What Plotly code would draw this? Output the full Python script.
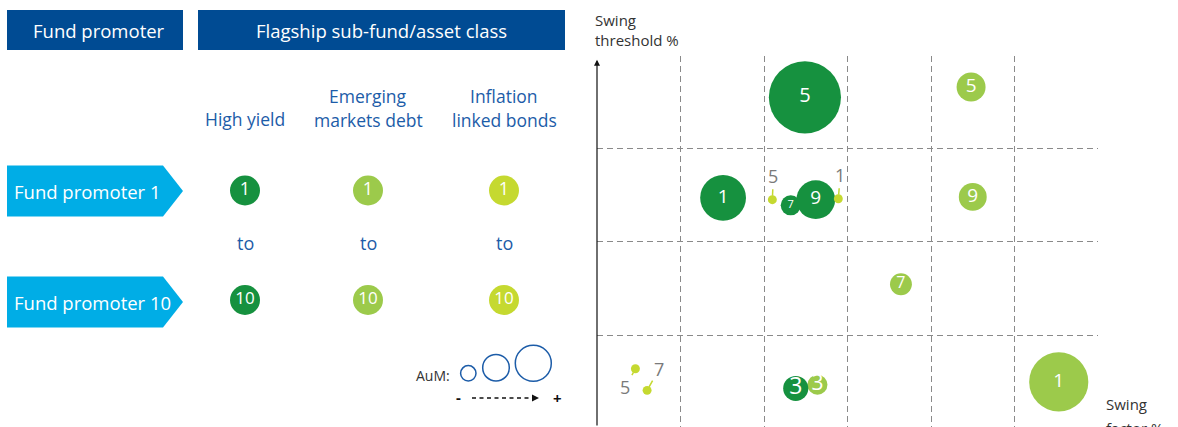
import plotly.graph_objects as go

W, H = 1178, 427
FONT = "Open Sans"

# ---------------- data ----------------
asset_classes = ["High yield", "Emerging markets debt", "Inflation linked bonds"]
asset_header_lines = [["High yield"], ["Emerging", "markets debt"], ["Inflation", "linked bonds"]]
asset_colors = ["#16913f", "#9cca4b", "#c5d930"]
promoter_rows = ["Fund promoter 1", "Fund promoter 10"]
promoter_ids = ["1", "10"]

# bubble chart (swing factor in grid units, swing threshold in grid units, relative AuM)
hy_promoter = ["1", "3", "5", "7", "9"]
hy_factor = [1.51, 2.38, 2.49, 2.32, 2.62]
hy_threshold = [2.47, 0.44, 3.54, 2.39, 2.45]
hy_aum = [21.0, 6.3, 52.0, 4.0, 15.0]

emd_promoter = ["1", "3", "5", "7", "9"]
emd_factor = [5.53, 2.64, 4.48, 3.64, 4.50]
emd_threshold = [0.51, 0.48, 3.65, 1.55, 2.48]
emd_aum = [35.0, 4.0, 8.4, 4.8, 7.8]

ilb_promoter = ["5", "1", "5", "7"]
ilb_factor = [2.10, 2.89, 0.46, 0.60]
ilb_threshold = [2.45, 2.46, 0.65, 0.42]
ilb_aum = [0.8, 0.8, 0.8, 0.8]

# ---------------- styles ----------------
hy_label_size = [19, 23, 20, 11, 19]
emd_label_size = [19, 21, 19, 16, 19]
ilb_label_offsets = [(1, -24), (2, -24), (-10, 18), (12, -21)]
SIZEREF = 0.02
DARK_BLUE = "#004b93"
CYAN = "#00ade6"
TEXT_BLUE = "#1c5ca8"
GRID = "#8a8a8a"

fig = go.Figure()

# bubble traces (right chart)
def bubble(xs, ys, aum, labels, color, lsize, show_text=True):
    return go.Scatter(
        x=xs, y=ys, mode="markers+text" if show_text else "markers",
        text=labels if show_text else None,
        textposition="middle center",
        textfont=dict(family=FONT, color="white", size=lsize),
        marker=dict(size=aum, sizemode="area", sizeref=SIZEREF, color=color,
                    line=dict(width=0), opacity=1),
        cliponaxis=False, hoverinfo="skip", showlegend=False,
        xaxis="x", yaxis="y",
    )

fig.add_trace(bubble(emd_factor, emd_threshold, emd_aum, emd_promoter, asset_colors[1], emd_label_size))
fig.add_trace(bubble(hy_factor, hy_threshold, hy_aum, hy_promoter, asset_colors[0], hy_label_size))
fig.add_trace(bubble(ilb_factor, ilb_threshold, ilb_aum, ilb_promoter, asset_colors[2], 10, show_text=False))

annotations = []
for (x, y, lab, (ax, ay)) in zip(ilb_factor, ilb_threshold, ilb_promoter, ilb_label_offsets):
    annotations.append(dict(
        x=x, y=y, xref="x", yref="y", text=lab, showarrow=True, ax=ax, ay=ay,
        arrowhead=0, arrowwidth=1.5, arrowcolor=asset_colors[2], standoff=4,
        font=dict(family=FONT, size=18, color="#7a7a7a"),
    ))

# y axis arrow
annotations.append(dict(x=0, y=3.94, xref="x", yref="y", text="", showarrow=True,
                        ax=0, ay=372, arrowhead=2, arrowsize=1, arrowwidth=1.2,
                        arrowcolor="#111111", standoff=0))

# axis titles
annotations.append(dict(x=593, y=8, xref="x2", yref="y2", text="Swing<br>threshold %",
                        showarrow=False, xanchor="left", yanchor="top", align="left",
                        font=dict(family=FONT, size=15, color="#333333")))
annotations.append(dict(x=1104, y=404, xref="x2", yref="y2", text="Swing",
                        showarrow=False, xanchor="left", yanchor="middle", align="left",
                        font=dict(family=FONT, size=15, color="#333333")))
annotations.append(dict(x=1104, y=416, xref="x2", yref="y2", text="factor %",
                        showarrow=False, xanchor="left", yanchor="top", align="left",
                        font=dict(family=FONT, size=15, color="#333333")))

# ---------------- left panel ----------------
shapes = []
# header boxes
header_boxes = [("Fund promoter", 7, 183), ("Flagship sub-fund/asset class", 198, 565)]
for txt, x0, x1 in header_boxes:
    shapes.append(dict(type="rect", xref="x2", yref="y2", x0=x0, x1=x1, y0=10, y1=50,
                       fillcolor=DARK_BLUE, line=dict(width=0), layer="above"))
    annotations.append(dict(x=(x0 + x1) / 2 + (4 if x0 < 100 else 0), y=30, xref="x2", yref="y2",
                            text=txt, showarrow=False,
                            font=dict(family=FONT, size=18.5, color="white")))

col_x = [245, 368, 504]
for cx, lines in zip(col_x, asset_header_lines):
    if len(lines) == 1:
        annotations.append(dict(x=cx, y=119, xref="x2", yref="y2", text=lines[0], showarrow=False,
                                font=dict(family=FONT, size=17.5, color=TEXT_BLUE)))
    else:
        for j, ln in enumerate(lines):
            annotations.append(dict(x=cx, y=96 + 23.5 * j, xref="x2", yref="y2", text=ln,
                                    showarrow=False, font=dict(family=FONT, size=17.5, color=TEXT_BLUE)))

row_y = [191, 302]
for ry, label in zip(row_y, promoter_rows):
    shapes.append(dict(type="path", xref="x2", yref="y2",
                       path=f"M 7,{ry-25.5} L 163,{ry-25.5} L 183,{ry} L 163,{ry+25.5} L 7,{ry+25.5} Z",
                       fillcolor=CYAN, line=dict(width=0), layer="above"))
    annotations.append(dict(x=12, y=ry, xref="x2", yref="y2", text=label, showarrow=False,
                            xanchor="left", font=dict(family=FONT, size=18.5, color="white")))

key_x, key_y, key_txt, key_col = [], [], [], []
for ci, cx in enumerate(col_x):
    for ry, pid in zip([190.5, 300], promoter_ids):
        key_x.append(cx); key_y.append(ry); key_txt.append(pid); key_col.append(asset_colors[ci])
    annotations.append(dict(x=cx, y=243, xref="x2", yref="y2", text="to", showarrow=False,
                            font=dict(family=FONT, size=18, color=TEXT_BLUE)))

fig.add_trace(go.Scatter(
    x=key_x, y=key_y, mode="markers+text", text=key_txt, textposition="middle center",
    textfont=dict(family=FONT, color="white", size=[18, 17, 18, 17, 18, 17]),
    marker=dict(size=30, color=key_col, line=dict(width=0)),
    xaxis="x2", yaxis="y2", cliponaxis=False, hoverinfo="skip", showlegend=False,
))

# AuM key
for cx, cy, r in [(468.3, 373.3, 7.7), (496, 367.7, 13.3), (533.3, 363.3, 18)]:
    shapes.append(dict(type="circle", xref="x2", yref="y2", x0=cx - r, x1=cx + r, y0=cy - r, y1=cy + r,
                       line=dict(color=TEXT_BLUE, width=1.5), fillcolor="rgba(0,0,0,0)", layer="above"))
annotations.append(dict(x=433, y=375, xref="x2", yref="y2", text="AuM:", showarrow=False,
                        font=dict(family=FONT, size=14, color="#333333")))
annotations.append(dict(x=458, y=397, xref="x2", yref="y2", text="<b>-</b>", showarrow=False,
                        font=dict(family=FONT, size=15, color="#111111")))
annotations.append(dict(x=557, y=397.5, xref="x2", yref="y2", text="<b>+</b>", showarrow=False,
                        font=dict(family=FONT, size=15, color="#111111")))
shapes.append(dict(type="line", xref="x2", yref="y2", x0=472, x1=533, y0=398, y1=398,
                   line=dict(color="#111111", width=1.3, dash="4px,3.5px"), layer="above"))
shapes.append(dict(type="path", xref="x2", yref="y2", path="M 532,394.5 L 539,398 L 532,401.5 Z",
                   fillcolor="#111111", line=dict(width=0), layer="above"))

fig.update_layout(
    width=W, height=H, margin=dict(l=0, r=0, t=0, b=0),
    paper_bgcolor="white", plot_bgcolor="rgba(0,0,0,0)",
    showlegend=False,
    xaxis=dict(domain=[597 / W, 1098 / W], range=[0, 6], tickvals=[1, 2, 3, 4, 5],
               showticklabels=False, ticks="", showgrid=True, gridcolor=GRID, gridwidth=1,
               griddash="6px,4px", zeroline=False, showline=False, fixedrange=True),
    yaxis=dict(domain=[0, 1 - 56 / H], range=[0.03, 3.98], tickvals=[1, 2, 3],
               showticklabels=False, ticks="", showgrid=True, gridcolor=GRID, gridwidth=1,
               griddash="6px,4px", zeroline=False, showline=False, fixedrange=True),
    xaxis2=dict(domain=[0, 1], range=[0, W], visible=False, anchor="y2", fixedrange=True),
    yaxis2=dict(domain=[0, 1], range=[H, 0], visible=False, anchor="x2", fixedrange=True),
    shapes=shapes, annotations=annotations,
)

fig.write_html("out.html", config={"displayModeBar": False},
               post_script="document.body.style.margin='0';document.body.style.overflow='hidden';")
